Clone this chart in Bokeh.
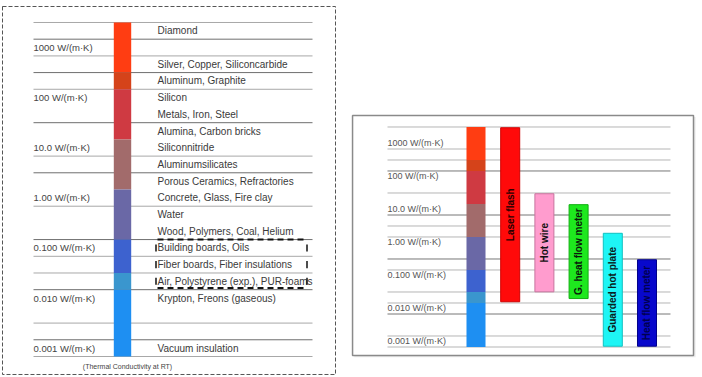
import numpy as np
from bokeh.plotting import figure
from bokeh.models import Range1d, ColumnDataSource
from bokeh.core.properties import value
from bokeh.embed import file_html
from bokeh.resources import INLINE

# ---------------- data ----------------
decade_log = [3, 2, 1, 0, -1, -2, -3]
decade_labels = ["1000 W/(m·K)", "100 W/(m·K)", "10.0 W/(m·K)", "1.00 W/(m·K)",
                 "0.100 W/(m·K)", "0.010 W/(m·K)", "0.001 W/(m·K)"]

materials = ["Diamond", "Silver, Copper, Siliconcarbide", "Aluminum, Graphite", "Silicon",
             "Metals, Iron, Steel", "Alumina, Carbon bricks", "Siliconnitride",
             "Aluminumsilicates", "Porous Ceramics, Refractories", "Concrete, Glass, Fire clay",
             "Water", "Wood, Polymers, Coal, Helium", "Building boards, Oils",
             "Fiber boards, Fiber insulations", "Air, Polystyrene (exp.), PUR-foams",
             "Krypton, Freons (gaseous)", "Vacuum insulation"]
material_logk = [3.333, 2.667, 2.333, 2.0, 1.667, 1.333, 1.0, 0.667, 0.333, 0.0,
                 -0.333, -0.667, -1.0, -1.333, -1.667, -2.0, -3.0]
boxed_materials = ["Building boards, Oils", "Fiber boards, Fiber insulations",
                   "Air, Polystyrene (exp.), PUR-foams"]
box_log_top = -0.833
box_log_bottom = -1.80

scale_log_top = [3.5, 2.5, 2.167, 1.167, 0.167, -0.833, -1.5, -1.833]
scale_log_bottom = [2.5, 2.167, 1.167, 0.167, -0.833, -1.5, -1.833, -3.167]
scale_colors = ["#FF3D12", "#D5431A", "#CF3A42", "#A26B6B", "#6A68A6", "#3D62CF",
                "#3A96CE", "#1E8FF2"]

methods = ["Laser flash", "Hot wire", "G. heat flow meter", "Guarded hot plate",
           "Heat flow meter"]
method_k_max = [3000, 30, 14, 1.9, 0.3]
method_k_min = [0.016, 0.032, 0.02, 0.00072, 0.00072]
method_colors = ["#FF0A0A", "#FF9CCE", "#1EE81E", "#1EF5F5", "#0808CC"]
method_edge = ["#D00000", "#C8739E", "#10B010", "#10C0C0", "#00008A"]
method_text_colors = ["#2A0000", "#111111", "#0A1A0A", "#0A2020", "#000050"]

left_rules_log = [3.5, 3.167, 2.833, 2.5, 2.167, 1.5, 0.833, 0.5, -0.167, -0.833,
                  -1.167, -1.5, -1.833, -2.5, -2.833, -3.167]
left_rules_dark = [3.167, 2.5, 1.5, 0.5, -0.833, -1.833, -2.833]
right_rules_log = [3.5, 2.833, 2.5, 2.167, 1.5, 0.833, 0.5, 0.167, -0.5, -0.833,
                   -1.5, -1.833, -2.167, -2.833, -3.167]
right_rules_dark = [2.167, 0.833, -0.5, -2.167]

# ---------------- figure ----------------
p = figure(width=702, height=377, output_backend="svg", toolbar_location=None,
           x_range=Range1d(0, 702), y_range=Range1d(-3.586, 3.939),
           x_axis_location=None, y_axis_location=None, min_border=0,
           outline_line_color=None, background_fill_color="white")
p.xgrid.visible = False
p.ygrid.visible = False
p.extra_y_ranges = {"r": Range1d(-4.091, 7.333)}
p.extra_x_ranges = {"rx": Range1d(-13.904, 6.623)}

sans = value("Liberation Sans")

# ---------- left panel ----------
p.quad(left=[2], right=[335], top=[3.819], bottom=[-3.526], fill_color=None,
       line_color="#555555", line_width=1, line_dash="4 2")

rule_cols = ["#6e6e6e" if v in left_rules_dark else "#a8a8a8" for v in left_rules_log]
p.segment(x0=33, x1=312, y0=left_rules_log, y1=left_rules_log, line_color=rule_cols,
          line_width=1)

p.quad(left=113.3, right=130.7, top=scale_log_top, bottom=scale_log_bottom,
       fill_color=scale_colors, line_color=None)

p.text(x=33, y=decade_log, text=decade_labels, text_font=sans, text_font_size="9.5px",
       text_color="#444444", text_baseline="middle", text_align="left")

p.text(x=157, y=material_logk, text=materials, text_font=sans, text_font_size="10px",
       text_color="#3a3a3a", text_baseline="middle", text_align="left")

# dashed box around low-conductivity insulation materials
p.segment(x0=[157, 157], x1=[306, 306], y0=[box_log_top, box_log_bottom],
          y1=[box_log_top, box_log_bottom], line_color="#111111", line_width=2,
          line_dash="6 4")
boxed_y = [material_logk[materials.index(m)] for m in boxed_materials]
for xx in (155.5, 306.5):
    p.segment(x0=xx, x1=xx, y0=[y + 0.07 for y in boxed_y], y1=[y - 0.07 for y in boxed_y],
              line_color="#111111", line_width=1.5)

p.text(x=[127], y=[-3.366], text=["(Thermal Conductivity at RT)"], text_font=sans,
       text_font_size="7px", text_color="#444444", text_baseline="middle",
       text_align="center")

# ---------- right panel ----------
p.quad(left=[-3.56], right=[6.42], top=[3.80], bottom=[-3.48], fill_color="#d8d8d8",
       line_color=None, x_range_name="rx", y_range_name="r", fill_alpha=0.5)
p.quad(left=[-3.61], right=[6.36], top=[3.848], bottom=[-3.424], fill_color="white",
       line_color="#8a8a8a", line_width=1.5, x_range_name="rx", y_range_name="r")

rcols = ["#777777" if v in right_rules_dark else "#b5b5b5" for v in right_rules_log]
p.segment(x0=-2.588, x1=5.687, y0=right_rules_log, y1=right_rules_log, line_color=rcols,
          line_width=1, x_range_name="rx", y_range_name="r")

p.text(x=-2.588, y=decade_log, text=decade_labels, text_font=sans, text_font_size="9px",
       text_color="#555555", text_baseline="middle", text_align="left",
       x_range_name="rx", y_range_name="r")

p.quad(left=-0.278, right=0.278, top=scale_log_top, bottom=scale_log_bottom,
       fill_color=scale_colors, line_color=None, x_range_name="rx", y_range_name="r")

mx = list(range(1, len(methods) + 1))
mtop = np.log10(method_k_max)
mbot = np.log10(method_k_min)
src = ColumnDataSource(dict(x=mx, top=mtop, bottom=mbot, mid=(mtop + mbot) / 2,
                            name=methods, fill=method_colors, edge=method_edge,
                            tc=method_text_colors))
p.vbar(x="x", width=0.556, top="top", bottom="bottom", fill_color="fill",
       line_color="edge", line_width=1, source=src, x_range_name="rx", y_range_name="r")
p.text(x="x", y="mid", text="name", angle=np.pi / 2, text_font=sans,
       text_font_style="bold", text_font_size="10px", text_color="tc",
       text_align="center", text_baseline="middle", source=src,
       x_range_name="rx", y_range_name="r")

open("out.html", "w").write(file_html(p, INLINE))
